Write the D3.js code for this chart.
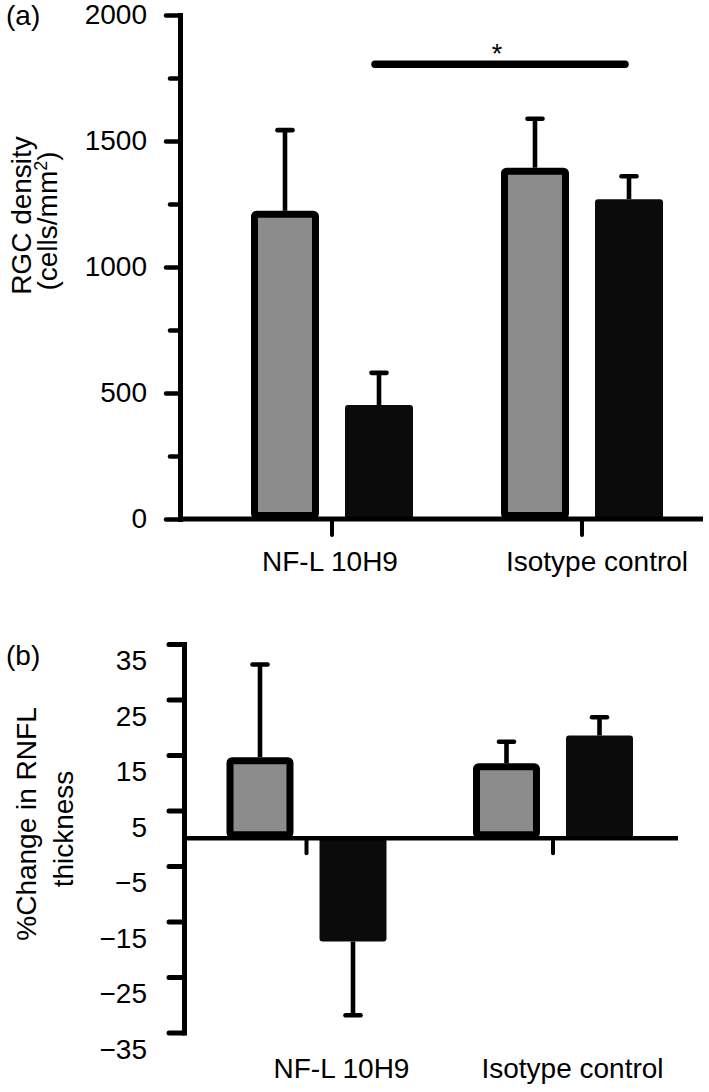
<!DOCTYPE html>
<html><head><meta charset="utf-8">
<script src="https://cdn.jsdelivr.net/npm/d3@7"></script>
<style>
html,body{margin:0;padding:0;background:#fff;}
svg{display:block;}
text{font-family:"Liberation Sans",Arial,Helvetica,sans-serif;fill:#000;}
</style></head><body>
<svg id="chart" width="709" height="1092"></svg>
<script>
// ---------- data ----------
const categories = ["NF-L 10H9", "Isotype control"];
const series = ["grey", "black"];
const seriesColors = ["#8c8c8c", "#0b0b0b"];

// Panel (a): RGC density (cells/mm2)
const rgcGrey = [1223, 1394];
const rgcGreyErr = [320, 194];
const rgcBlack = [452, 1269];
const rgcBlackErr = [128, 91];
const rgcTicks = [0, 500, 1000, 1500, 2000];
const rgcMinorTicks = [250, 750, 1250, 1750];
const rgcSigLevel = 1805;
const rgcSigLabel = "*";

// Panel (b): % change in RNFL thickness
const rnflGrey = [14.6, 13.5];
const rnflGreyErr = [16.7, 3.9];
const rnflBlack = [-18.6, 18.5];
const rnflBlackErr = [13.3, 3.3];
const rnflTicks = [35, 25, 15, 5, -5, -15, -25, -35];

// ---------- layout ----------
const svg = d3.select("#chart");
const FS = 28;
const fmt = d3.format("d");

function drawBars(g, x, xin, y, vals, errs) {
  const bw = xin.bandwidth();
  series.forEach((s, j) => {
    categories.forEach((c, i) => {
      const v = vals[j][i], e = errs[j][i];
      const sx = x(c) + xin(s);
      const cx = sx + bw / 2;
      const sign = v >= 0 ? 1 : -1;
      const ye = y(v + sign * e);
      g.append("line").attr("x1", cx).attr("x2", cx).attr("y1", y(v)).attr("y2", ye)
        .attr("stroke", "#000").attr("stroke-width", 4.6);
      g.append("line").attr("x1", cx - 7.5).attr("x2", cx + 7.5).attr("y1", ye).attr("y2", ye)
        .attr("stroke", "#000").attr("stroke-width", 4.6).attr("stroke-linecap", "round");
      const top = Math.min(y(v), y(0)), h = Math.abs(y(v) - y(0));
      if (j === 0) {
        const sw = 7;
        g.append("rect").attr("x", sx + sw / 2).attr("y", top + sw / 2)
          .attr("width", bw - sw).attr("height", h - sw)
          .attr("rx", 2).attr("fill", seriesColors[j]).attr("stroke", "#000").attr("stroke-width", sw);
      } else {
        g.append("rect").attr("x", sx).attr("y", top).attr("width", bw).attr("height", h)
          .attr("rx", 3).attr("fill", seriesColors[j]);
      }
    });
  });
}

function styleAxis(sel, tw) {
  sel.attr("font-size", FS);
  sel.select(".domain").attr("stroke", "#000").attr("stroke-width", 5).attr("stroke-linecap", "square");
  sel.selectAll(".tick line").attr("stroke", "#000").attr("stroke-width", tw).attr("stroke-linecap", "round");
}

// ===== Panel (a) =====
const yA = d3.scaleLinear().domain([0, 2000]).range([519, 15]);
const xA = d3.scaleBand().domain(categories).range([207, 707]);
const xAin = d3.scaleBand().domain(series).range([0, 250]).paddingInner(0.2766).paddingOuter(0.468);
const gA = svg.append("g");

drawBars(gA, xA, xAin, yA, [rgcGrey, rgcBlack], [rgcGreyErr, rgcBlackErr]);

gA.append("line").attr("x1", 180).attr("x2", 703).attr("y1", yA(0)).attr("y2", yA(0))
  .attr("stroke", "#000").attr("stroke-width", 5);
categories.forEach(c => {
  const cx = xA(c) + xA.bandwidth() / 2;
  gA.append("line").attr("x1", cx).attr("x2", cx).attr("y1", yA(0)).attr("y2", yA(0) + 16)
    .attr("stroke", "#000").attr("stroke-width", 4).attr("stroke-linecap", "round");
});

gA.append("g").attr("transform", "translate(180,0)")
  .call(d3.axisLeft(yA).tickValues(rgcMinorTicks).tickSize(10).tickSizeOuter(0).tickFormat(""))
  .call(s => styleAxis(s, 4.5));
gA.append("g").attr("transform", "translate(180,0)")
  .call(d3.axisLeft(yA).tickValues(rgcTicks).tickSize(14).tickSizeOuter(0).tickPadding(19).tickFormat(fmt))
  .call(s => styleAxis(s, 4.5));

{
  const bw = xAin.bandwidth();
  const xs = xA(categories[0]) + xAin("black") + bw / 2 - 4;
  const xe = xA(categories[1]) + xAin("black") + bw / 2 - 4;
  gA.append("line").attr("x1", xs).attr("x2", xe).attr("y1", yA(rgcSigLevel)).attr("y2", yA(rgcSigLevel))
    .attr("stroke", "#000").attr("stroke-width", 7.5).attr("stroke-linecap", "round");
  gA.append("text").attr("x", (xs + xe) / 2 - 3).attr("y", yA(rgcSigLevel) - 1)
    .attr("text-anchor", "middle").attr("font-size", 27).text(rgcSigLabel);
}

const labShiftA = [-2, 15];
categories.forEach((c, i) => {
  gA.append("text").attr("x", xA(c) + xA.bandwidth() / 2 + labShiftA[i]).attr("y", 571)
    .attr("text-anchor", "middle").attr("font-size", FS).text(c);
});

gA.append("text").attr("x", 6).attr("y", 25).attr("font-size", FS).text("(a)");
gA.append("text").attr("transform", "translate(31,215.5) rotate(-90)").attr("text-anchor", "middle")
  .attr("font-size", FS).text("RGC density");
{
  const t = gA.append("text").attr("transform", "translate(57,221) rotate(-90)").attr("text-anchor", "middle")
    .attr("font-size", FS);
  t.append("tspan").text("(cells/mm");
  t.append("tspan").attr("font-size", 18).attr("dy", -10).text("2");
  t.append("tspan").attr("dy", 10).text(")");
}

// ===== Panel (b) =====
const yB = d3.scaleLinear().domain([-35, 35]).range([1032.5, 644]);
const xB = d3.scaleBand().domain(categories).range([183.25, 676.25]);
const xBin = d3.scaleBand().domain(series).range([0, 246.5]).paddingInner(0.28).paddingOuter(0.465);
const gB = svg.append("g");

drawBars(gB, xB, xBin, yB, [rnflGrey, rnflBlack], [rnflGreyErr, rnflBlackErr]);

gB.append("line").attr("x1", 184).attr("x2", 678).attr("y1", yB(0)).attr("y2", yB(0))
  .attr("stroke", "#000").attr("stroke-width", 4.5);
categories.forEach(c => {
  const cx = xB(c) + xB.bandwidth() / 2;
  gB.append("line").attr("x1", cx).attr("x2", cx).attr("y1", yB(0)).attr("y2", yB(0) + 15)
    .attr("stroke", "#000").attr("stroke-width", 4).attr("stroke-linecap", "round");
});

gB.append("g").attr("transform", "translate(184,0)")
  .call(d3.axisLeft(yB).tickValues(rnflTicks).tickSize(15).tickSizeOuter(0).tickPadding(22).tickFormat(fmt))
  .call(s => styleAxis(s, 5))
  .call(s => s.selectAll(".tick text").attr("transform", "translate(0,17)"));

const labShiftB = [35, 19.5];
categories.forEach((c, i) => {
  gB.append("text").attr("x", xB(c) + xB.bandwidth() / 2 + labShiftB[i]).attr("y", 1078)
    .attr("text-anchor", "middle").attr("font-size", FS).text(c);
});

gB.append("text").attr("x", 6).attr("y", 665).attr("font-size", FS).text("(b)");
gB.append("text").attr("transform", "translate(36,824) rotate(-90)").attr("text-anchor", "middle")
  .attr("font-size", FS).text("%Change in RNFL");
gB.append("text").attr("transform", "translate(73,829) rotate(-90)").attr("text-anchor", "middle")
  .attr("font-size", FS).text("thickness");
</script>
</body></html>
